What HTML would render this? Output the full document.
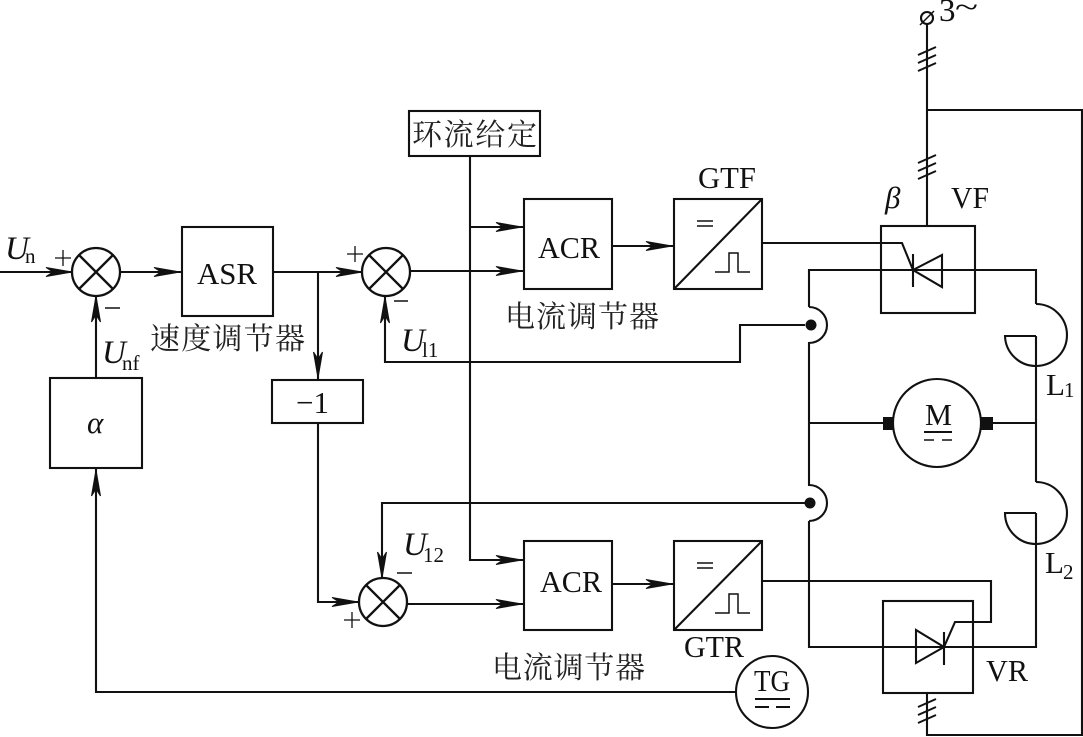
<!DOCTYPE html>
<html><head><meta charset="utf-8">
<style>
html,body{margin:0;padding:0;background:#fff}
svg{display:block}
text{fill:#111;font-family:"Liberation Serif","Noto Serif CJK SC",serif}
.cn{font-size:30px;font-family:"Liberation Serif","Noto Serif CJK SC",serif;fill:#222}
.l{font-size:31px}
.u{font-size:33px;font-style:italic}
.i{font-style:italic}
.s{font-size:21px}
</style></head><body>
<svg width="1083" height="737" viewBox="0 0 1083 737" xmlns="http://www.w3.org/2000/svg">
<defs>
<path id="ah" d="M-26,-4.5 L0,0 L-26,4.5 L-19,0 Z" fill="#111" stroke="#111" stroke-width="1"/>
<g id="sum"><circle r="24" fill="#fff" stroke="#111" stroke-width="2.3"/><path d="M-17,-17L17,17M-17,17L17,-17" stroke="#111" stroke-width="2.3" fill="none"/></g>
<path id="tk" d="M-9,5L9,-3M-9,13L9,5M-9,21L9,13" stroke="#111" stroke-width="2" fill="none"/>
</defs>
<g fill="none" stroke="#111" stroke-width="2.1">
<!-- blocks -->
<rect x="182" y="227" width="91" height="89"/>
<rect x="50" y="378" width="92" height="90"/>
<rect x="272" y="380" width="91" height="43"/>
<rect x="409" y="111" width="131" height="45"/>
<rect x="524" y="199" width="88" height="90"/>
<rect x="674" y="199" width="88" height="90"/>
<path d="M674,289L762,199"/>
<rect x="524" y="541" width="88" height="89"/>
<rect x="674" y="541" width="88" height="89"/>
<path d="M674,630L762,541"/>
<!-- pulses -->
<path d="M715,272H729V253H738V272H750" stroke-width="1.5"/>
<path d="M715,613H729V594H738V613H750" stroke-width="1.5"/>
<path d="M697,221H713M697,226H713M697,563H713M697,568H713" stroke-width="1.5"/>
<!-- signals -->
<path d="M0,272H72M120,272H182M273,272H362M318,272V380M318,423V602H358M408,604H524M410,271H524"/>
<path d="M470,156V560H524M470,227H524M612,246H674M612,584H674"/>
<path d="M385,296V362H740V325H805M382,578V503H805M96,378V296M96,468V692H736"/>
<!-- power -->
<path d="M927,24V226M927,110H1082V735H927V693"/>
<rect x="881" y="226" width="94" height="87"/>
<rect x="883" y="601" width="90" height="92"/>
<path d="M763,243H902L913,270"/>
<path d="M809,307V270H1036V304"/>
<path d="M913,254V287M942,255V287L913,270Z"/>
<path d="M1036,304A31,31 0 0 1 1036,366M1036,336H1005A31,31 0 0 0 1036,366M1036,336V482"/>
<path d="M1036,482A31,31 0 0 1 1036,544M1036,513H1005A31,31 0 0 0 1036,544M1036,513V647H809V521"/>
<path d="M809,307A18,18 0 0 1 809,343V485A18,18 0 0 1 809,521"/>
<path d="M809,423H884M992,423H1036"/>
<path d="M916,630V663L944,647ZM944,632V665M809,647H916"/>
<path d="M944,647L955,622H991V581H762"/>
<circle cx="937" cy="423" r="44"/>
<circle cx="772" cy="692" r="36"/>
<circle cx="927" cy="18" r="6"/>
<path d="M920,25L934,11" stroke-width="1.5"/>
<!-- equals marks -->
<path d="M924,432H952" stroke-width="2"/>
<path d="M924,440H934M942,440H952" stroke-width="1.5"/>
<path d="M755,699H790" stroke-width="2"/>
<path d="M755,707H769M776,707H790" stroke-width="2"/>
<!-- plus/minus -->
<path d="M55,258H71M63,250V266M347,254H363M355,246V262M344,620H360M352,612V628" stroke-width="1.3"/>
<path d="M105,308H120M394,301H408M397,573H412" stroke-width="1.5"/>
</g>
<use href="#sum" x="96" y="272"/>
<use href="#sum" x="386" y="272"/>
<use href="#sum" x="383" y="602"/>
<use href="#tk" x="927" y="50"/>
<use href="#tk" x="927" y="158"/>
<use href="#tk" x="927" y="702"/>
<!-- arrowheads -->
<use href="#ah" transform="translate(72,272)"/>
<use href="#ah" transform="translate(180,272)"/>
<use href="#ah" transform="translate(362,272)"/>
<use href="#ah" transform="translate(522,227)"/>
<use href="#ah" transform="translate(522,271)"/>
<use href="#ah" transform="translate(672,246)"/>
<use href="#ah" transform="translate(358,602)"/>
<use href="#ah" transform="translate(522,604)"/>
<use href="#ah" transform="translate(522,560)"/>
<use href="#ah" transform="translate(672,584)"/>
<use href="#ah" transform="translate(96,296) rotate(-90)"/>
<use href="#ah" transform="translate(96,470) rotate(-90)"/>
<use href="#ah" transform="translate(385,297) rotate(-90)"/>
<use href="#ah" transform="translate(318,378) rotate(90)"/>
<use href="#ah" transform="translate(382,578) rotate(90)"/>
<!-- solid marks -->
<circle cx="811" cy="325" r="5.5" fill="#111"/>
<circle cx="810" cy="503" r="5.5" fill="#111"/>
<rect x="883" y="417" width="11" height="13" fill="#111"/>
<rect x="980" y="417" width="13" height="13" fill="#111"/>
<!-- labels -->
<text class="l" x="197" y="284" textLength="60" lengthAdjust="spacingAndGlyphs">ASR</text>
<text class="l" x="538" y="258" textLength="62" lengthAdjust="spacingAndGlyphs">ACR</text>
<text class="l" x="540" y="592" textLength="62" lengthAdjust="spacingAndGlyphs">ACR</text>
<text class="l" x="698" y="188" textLength="58" lengthAdjust="spacingAndGlyphs">GTF</text>
<text class="l" x="684" y="657" textLength="60" lengthAdjust="spacingAndGlyphs">GTR</text>
<text class="l" x="951" y="208" textLength="38" lengthAdjust="spacingAndGlyphs">VF</text>
<text class="l" x="986" y="681" textLength="42" lengthAdjust="spacingAndGlyphs">VR</text>
<text class="l" x="925" y="425" textLength="27" lengthAdjust="spacingAndGlyphs">M</text>
<text class="l" x="754" y="691" textLength="36" lengthAdjust="spacingAndGlyphs">TG</text>
<text class="l i" x="885" y="208">β</text>
<text class="l i" x="87" y="433">α</text>
<text class="l" x="296" y="413">−1</text>
<text class="l" x="939" y="21" style="font-size:33px">3</text>
<text class="l" x="955" y="17" textLength="23" lengthAdjust="spacingAndGlyphs">~</text>
<text class="u" x="5" y="259">U</text><text class="s" x="25" y="263">n</text>
<text class="u" x="102" y="363">U</text><text class="s" x="122" y="370">nf</text>
<text class="u" x="401" y="351">U</text><text class="s" x="422" y="357">l1</text>
<text class="u" x="403" y="555">U</text><text class="s" x="423" y="562">12</text>
<text class="l" x="1046" y="395">L</text><text class="s" x="1064" y="397">1</text>
<text class="l" x="1045" y="573">L</text><text class="s" x="1063" y="579">2</text>
<text class="cn" x="150" y="349" textLength="155">速度调节器</text>
<text class="cn" x="505" y="327" textLength="154">电流调节器</text>
<text class="cn" x="492" y="678" textLength="153">电流调节器</text>
<text class="cn" x="412" y="145" textLength="125">环流给定</text>
</svg>
</body></html>
